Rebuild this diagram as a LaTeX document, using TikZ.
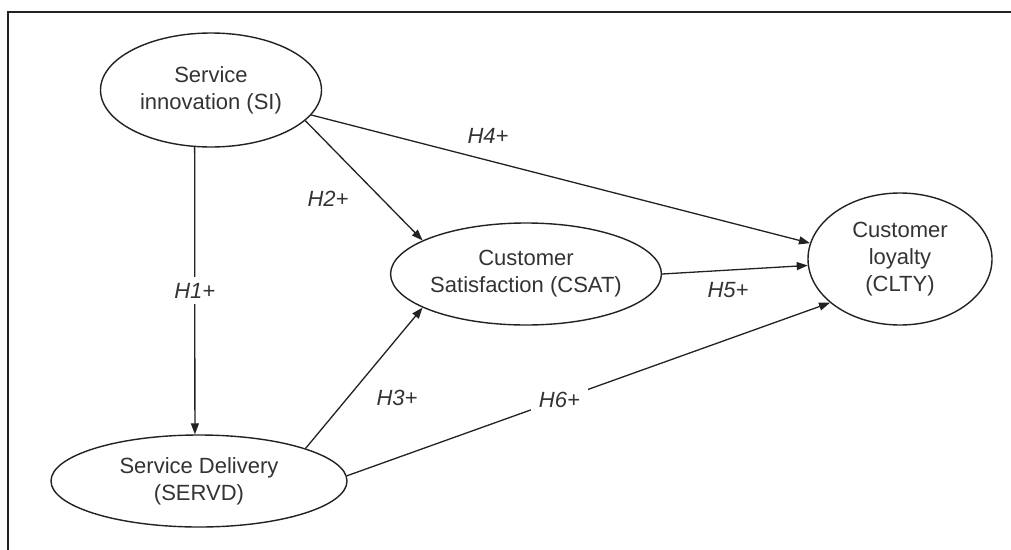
\documentclass[tikz,border=0pt]{standalone}
\usepackage{fontspec}
\setmainfont{Liberation Sans}
\usetikzlibrary{shapes.geometric,arrows.meta}
\definecolor{ink}{HTML}{222222}
\definecolor{txt}{HTML}{333333}
\begin{document}
\begin{tikzpicture}[x=1pt,y=-1pt,
  construct/.style={ellipse,draw=ink,line width=1.4pt,inner sep=0pt,
    text=txt,align=center,font=\fontsize{22}{27}\selectfont},
  path/.style={draw=ink,line width=1.3pt,-{Triangle[length=11pt,width=8pt]}},
  hyp/.style={text=txt,font=\fontsize{22}{26}\selectfont\itshape,inner sep=0pt},
  gap/.style={hyp,fill=white,inner xsep=8pt,inner ysep=6pt}]
\useasboundingbox (0,0) rectangle (1011,549);
\fill[white] (0,0) rectangle (1011,549);
% frame
\draw[ink,line width=2pt] (8,560) -- (8,12) -- (1020,12);

% constructs
\node[construct,minimum width=221pt,minimum height=114pt] (SI) at (211,90)
  {Service\\innovation (SI)};
\node[construct,minimum width=296pt,minimum height=92pt] (SERVD) at (199,481)
  {Service Delivery\\(SERVD)};
\node[construct,minimum width=262pt,minimum height=102pt] (CSAT) at (526,274)
  {Customer\\Satisfaction (CSAT)};
\node[construct,minimum width=184pt,minimum height=132pt] (CLTY) at (900,259)
  {Customer\\loyalty\\(CLTY)};

% hypothesised paths
\draw[path] (SI.-106) -- node[gap,pos=0.5] (lH1) {H1+} (SERVD.95);
\draw[path] (SI.-18) -- (CSAT.162);
\draw[path] (SI.-14) -- (CLTY.170);
\draw[path] (SERVD.17) -- (CSAT.198);
\draw[path] (CSAT.0) -- (CLTY.184);
\draw[path] (SERVD.2) -- node[gap,pos=0.44] (lH6) {H6+} (CLTY.212);

% path labels
\node[hyp] (lH2) at (328,199) {H2+};
\node[hyp] (lH4) at (488,136) {H4+};
\node[hyp] (lH3) at (397,398) {H3+};
\node[hyp] (lH5) at (728,290) {H5+};
\end{tikzpicture}
\end{document}
